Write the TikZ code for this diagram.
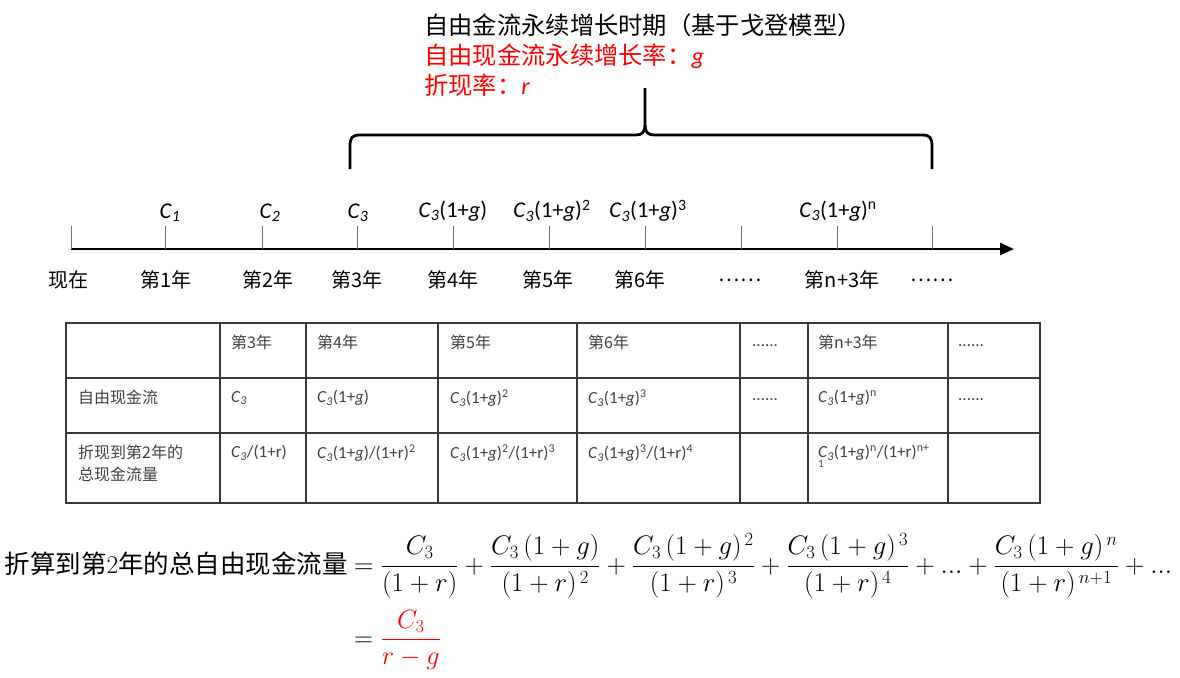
\documentclass[tikz,border=0pt]{standalone}
\usepackage{fontspec}
\newfontfamily\cjk{Noto Sans CJK SC}
\newfontfamily\carl{Carlito}
\usetikzlibrary{arrows.meta}
\definecolor{tgray}{HTML}{404040}
\definecolor{tline}{HTML}{3A3A3A}
\newcommand{\mycc}{\textit{C}\textsubscript{\textit{3}}}
\newcommand{\mygg}{(1+\textit{g})}
\begin{document}
\begin{tikzpicture}[x=1pt,y=-1pt,
  brace/.style={line width=2.8pt},
  axisline/.style={line width=2.6pt},
  tickline/.style={line width=0.9pt, black!55},
  tblline/.style={line width=1.4pt, tline},
  toptext/.style={inner sep=0pt, font=\fontsize{24.3}{29}\selectfont\cjk},
  clab/.style={inner sep=0pt, font=\fontsize{22.5}{26}\selectfont\carl},
  ylab/.style={inner sep=0pt, font=\fontsize{20}{24}\selectfont\cjk},
  cell/.style={inner sep=0pt, anchor=west, text=tgray, font=\fontsize{17}{20}\selectfont\carl},
  ccell/.style={inner sep=0pt, anchor=west, text=tgray, font=\fontsize{16}{19}\selectfont\cjk},
]
\useasboundingbox (0,0) rectangle (1180,677);

% top texts
\node[toptext, anchor=west] (t1) at (424,25) {自由金流永续增长时期（基于戈登模型）};
\node[toptext, anchor=west, red] (t2) at (424,56) {自由现金流永续增长率：{\carl\itshape g}};
\node[toptext, anchor=west, red] (t3) at (424,85) {折现率：{\carl\itshape r}};

% brace
\coordinate (bl) at (350,169);
\coordinate (br) at (932,169);
\coordinate (btip) at (645,88);
\draw[brace] (bl) -- (350,146) .. controls (350,138) and (352,135) .. (360,135) -- (636,135) .. controls (642,135) and (645,132) .. (645,125) -- (btip);
\draw[brace] (br) -- (932,146) .. controls (932,138) and (930,135) .. (922,135) -- (654,135) .. controls (648,135) and (645,132) .. (645,125);

% axis
\coordinate (ax0) at (71,249);
\coordinate (ax1) at (1014,249);
\draw[axisline, -{Triangle[length=14pt,width=12pt]}] (ax0) -- (ax1);
\foreach \i/\x in {0/71,1/165,2/262,3/357,4/453,5/549,6/645,7/741,8/837,9/932}{
  \coordinate (tk\i) at (\x,249);
  \draw[tickline] (tk\i) -- ++(0,-23);
}

% labels above
\node[clab] (c1) at (170,213) {\textit{C}\textsubscript{\textit{1}}};
\node[clab] (c2) at (270,213) {\textit{C}\textsubscript{\textit{2}}};
\node[clab] (c3) at (358,213) {\mycc};
\node[clab] (c4) at (453,211) {\mycc\mygg};
\node[clab] (c5) at (552,211) {\mycc\mygg\textsuperscript{2}};
\node[clab] (c6) at (648,211) {\mycc\mygg\textsuperscript{3}};
\node[clab] (c7) at (838,211) {\mycc\mygg\textsuperscript{n}};

% labels below
\node[ylab] (y0) at (68,280) {现在};
\node[ylab] (y1) at (166,280) {第1年};
\node[ylab] (y2) at (268,280) {第2年};
\node[ylab] (y3) at (357,280) {第3年};
\node[ylab] (y4) at (453,280) {第4年};
\node[ylab] (y5) at (548,280) {第5年};
\node[ylab] (y6) at (640,280) {第6年};
\node[ylab] (y7) at (740,280) {……};
\node[ylab] (y8) at (842,280) {第n+3年};
\node[ylab] (y9) at (932,280) {……};

% table
\draw[tblline] (66,323) rectangle (1040,503);
\foreach \yy in {378,433}{ \draw[tblline] (66,\yy) -- (1040,\yy); }
\foreach \xx in {220,306,438,577,740,808,948}{ \draw[tblline] (\xx,323) -- (\xx,503); }

\node[ccell] (h1) at (231,342) {第3年};
\node[ccell] (h2) at (317,342) {第4年};
\node[ccell] (h3) at (450,342) {第5年};
\node[ccell] (h4) at (588,342) {第6年};
\node[cell]  (h5) at (752,346) {......};
\node[ccell] (h6) at (818,342) {第n+3年};
\node[cell]  (h7) at (958,346) {......};

\node[ccell] (r1) at (78,397) {自由现金流};
\node[cell] (r1a) at (231,398) {\mycc};
\node[cell] (r1b) at (317,398) {\mycc\mygg};
\node[cell] (r1c) at (450,398) {\mycc\mygg\textsuperscript{2}};
\node[cell] (r1d) at (588,398) {\mycc\mygg\textsuperscript{3}};
\node[cell] (r1e) at (752,400) {......};
\node[cell] (r1f) at (818,398) {\mycc\mygg\textsuperscript{n}};
\node[cell] (r1g) at (958,400) {......};

\node[ccell] (r2) at (78,452) {折现到第2年的};
\node[ccell] (r2b) at (78,474) {总现金流量};
\node[cell] (r2a) at (231,453) {\mycc/(1+r)};
\node[cell] (r2c) at (317,453) {\mycc\mygg/(1+r)\textsuperscript{2}};
\node[cell] (r2d) at (450,453) {\mycc\mygg\textsuperscript{2}/(1+r)\textsuperscript{3}};
\node[cell] (r2e) at (588,453) {\mycc\mygg\textsuperscript{3}/(1+r)\textsuperscript{4}};
\node[cell] (r2f) at (818,453) {\mycc\mygg\textsuperscript{n}/(1+r)\textsuperscript{n+}};
\node[cell, font=\fontsize{11}{13}\selectfont\carl] (r2g) at (818,464) {1};

% formula
\node[inner sep=0pt, anchor=base east] (fl) at (348,573)
  {\resizebox{343pt}{!}{\fontsize{26}{30}\selectfont{\cjk 折算到第}2{\cjk 年的总自由现金流量}}};
\node[inner sep=0pt, anchor=base west] (fr) at (354,573)
  {\resizebox{818pt}{!}{\fontsize{25}{30}\selectfont$\displaystyle =\frac{C_3}{(1+r)}+\frac{C_3\,(1+g)}{(1+r)^{\,2}}+\frac{C_3\,(1+g)^{\,2}}{(1+r)^{\,3}}+\frac{C_3\,(1+g)^{\,3}}{(1+r)^{\,4}}+{...}+\frac{C_3\,(1+g)^{\,n}}{(1+r)^{\,n+1}}+{...}$}};
\node[inner sep=0pt, anchor=base west] (f2) at (354,646)
  {\scalebox{1.06}{\fontsize{25}{30}\selectfont$\displaystyle =\color{red}\frac{C_3}{r-g}$}};
\end{tikzpicture}
\end{document}
